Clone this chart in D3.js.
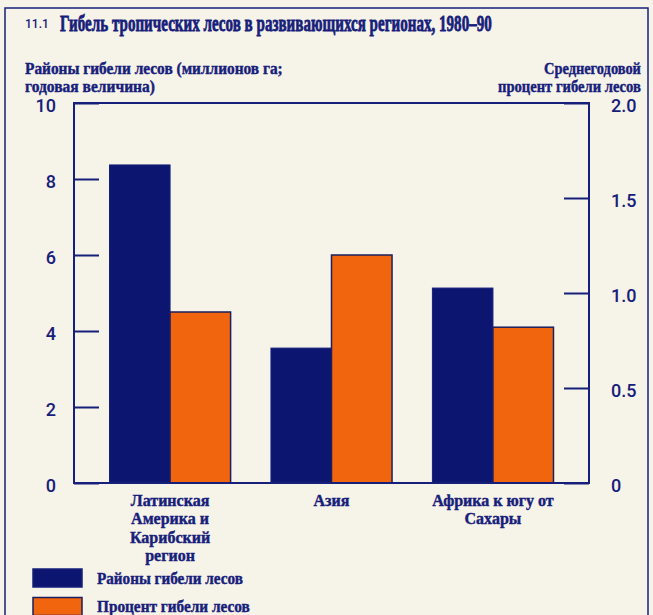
<!DOCTYPE html>
<html>
<head>
<meta charset="utf-8">
<script src="https://cdn.jsdelivr.net/npm/d3@7"></script>
<style>
  body { margin: 0; background: #f6f3e9; }
  svg { display: block; }
  .tick text { font-family: Roboto, "DejaVu Sans", sans-serif; font-weight: 500; font-size: 18px; fill: #16207a; }
</style>
</head>
<body>
<div id="viz"></div>
<script>
// data
const regions = [
  ["Латинская", "Америка и", "Карибский", "регион"],
  ["Азия"],
  ["Африка к югу от", "Сахары"]
];
const regionKeys = ["latam", "asia", "africa"];
const areaLost = [8.37, 3.55, 5.13];      // million ha per year (left axis)
const pctLost = [0.9, 1.2, 0.82];         // average annual % (right axis)
const leftTicks = [0, 2, 4, 6, 8, 10];
const rightTicks = [0, 0.5, 1.0, 1.5, 2.0];
const seriesNames = ["Районы гибели лесов", "Процент гибели лесов"];

const W = 653, H = 615;
const navy = "#16207a", barBlue = "#0c1670", barOrange = "#f2650f";
const plot = {left: 74, right: 589, top: 103, bottom: 483};
const serif = "'Liberation Serif', 'DejaVu Serif', serif";

const svg = d3.select("#viz").append("svg")
    .attr("width", W)
    .attr("height", H);

svg.append("rect")
    .attr("width", W).attr("height", H)
    .attr("fill", "#f6f3e9");

// outer frame of the figure (runs off the bottom)
svg.append("rect")
    .attr("x", 5).attr("y", 8)
    .attr("width", 643).attr("height", H + 10)
    .attr("fill", "none")
    .attr("stroke", navy)
    .attr("stroke-width", 1.5);

function label(sel, size) {
  return sel.style("font-family", serif)
      .style("font-weight", "bold")
      .style("font-size", size + "px")
      .attr("fill", navy)
      .attr("stroke", navy)
      .attr("stroke-width", 0.4);
}

// squeeze a text horizontally so it spans the given width
function fitText(x, y, str, size, width, anchor) {
  const g = svg.append("g");
  const t = label(g.append("text"), size).text(str);
  const len = t.node().getComputedTextLength();
  const sx = width / len;
  const x0 = anchor === "end" ? x - width : x;
  g.attr("transform", `translate(${x0},${y}) scale(${sx},1)`);
  return t;
}

// title
svg.append("text")
    .attr("x", 25).attr("y", 28)
    .attr("fill", navy)
    .style("font-family", "Roboto, sans-serif")
    .style("font-weight", 500)
    .style("font-size", "12px")
    .text("11.1");
fitText(60, 31, "Гибель тропических лесов в развивающихся регионах, 1980–90", 24, 432)
    .attr("stroke-width", 0.8);

// axis titles
fitText(25, 74, "Районы гибели лесов (миллионов га;", 16, 258);
fitText(25, 92, "годовая величина)", 16, 130);
fitText(641, 74, "Среднегодовой", 16, 97, "end");
fitText(641, 92, "процент гибели лесов", 16, 143, "end");

// scales
const x0 = d3.scaleBand()
    .domain(regionKeys)
    .range([plot.left, plot.right])
    .paddingInner(0.25)
    .paddingOuter(0.22);

const x1 = d3.scaleBand()
    .domain(["area", "pct"])
    .range([0, x0.bandwidth()]);

const yL = d3.scaleLinear().domain([0, 10]).range([plot.bottom, plot.top]);
const yR = d3.scaleLinear().domain([0, 2]).range([plot.bottom, plot.top]);

// bars
const groups = svg.selectAll(".grp")
    .data(regionKeys)
    .enter().append("g")
    .attr("class", "grp")
    .attr("transform", d => `translate(${x0(d)},0)`);

groups.append("rect")
    .attr("x", x1("area"))
    .attr("y", (d, i) => yL(areaLost[i]))
    .attr("width", x1.bandwidth())
    .attr("height", (d, i) => yL(0) - yL(areaLost[i]))
    .attr("fill", barBlue)
    .attr("stroke", navy)
    .attr("stroke-width", 1);

groups.append("rect")
    .attr("x", x1("pct"))
    .attr("y", (d, i) => yR(pctLost[i]))
    .attr("width", x1.bandwidth())
    .attr("height", (d, i) => yR(0) - yR(pctLost[i]))
    .attr("fill", barOrange)
    .attr("stroke", "#1a1f5e")
    .attr("stroke-width", 1.5);

// axes
const axL = svg.append("g")
    .attr("transform", `translate(${plot.left},0)`)
    .call(d3.axisLeft(yL).tickValues(leftTicks).tickSizeInner(-25).tickSizeOuter(0).tickPadding(18));
const axR = svg.append("g")
    .attr("transform", `translate(${plot.right},0)`)
    .call(d3.axisRight(yR).tickValues(rightTicks).tickSizeInner(-25).tickSizeOuter(0).tickPadding(22)
        .tickFormat(d => d === 0 ? "0" : d.toFixed(1)));

[axL, axR].forEach(ax => {
  ax.select(".domain").remove();
  ax.selectAll(".tick line").attr("stroke", navy).attr("stroke-width", 2);
  ax.selectAll(".tick text").attr("transform", "translate(0,3)");
  ax.attr("font-size", null).attr("font-family", null);
});

// plot frame
svg.append("rect")
    .attr("x", plot.left).attr("y", plot.top)
    .attr("width", plot.right - plot.left)
    .attr("height", plot.bottom - plot.top)
    .attr("fill", "none")
    .attr("stroke", navy)
    .attr("stroke-width", 2);

// category labels
regionKeys.forEach((k, i) => {
  const cx = x0(k) + x0.bandwidth() / 2;
  regions[i].forEach((line, j) => {
    label(svg.append("text"), 16)
        .attr("x", cx)
        .attr("y", 506 + j * 18.3)
        .attr("text-anchor", "middle")
        .text(line);
  });
});

// legend
const legItems = svg.selectAll(".leg")
    .data(seriesNames)
    .enter().append("g")
    .attr("class", "leg")
    .attr("transform", (d, i) => `translate(33,${569 + i * 28.5})`);

legItems.append("rect")
    .attr("width", 49).attr("height", 18)
    .attr("fill", (d, i) => i === 0 ? barBlue : barOrange)
    .attr("stroke", (d, i) => i === 0 ? navy : "#1a1f5e")
    .attr("stroke-width", 1.5);

seriesNames.forEach((s, i) => {
  fitText(97, 584 + i * 28, s, 16, i === 0 ? 146 : 153);
});
</script>
</body>
</html>
